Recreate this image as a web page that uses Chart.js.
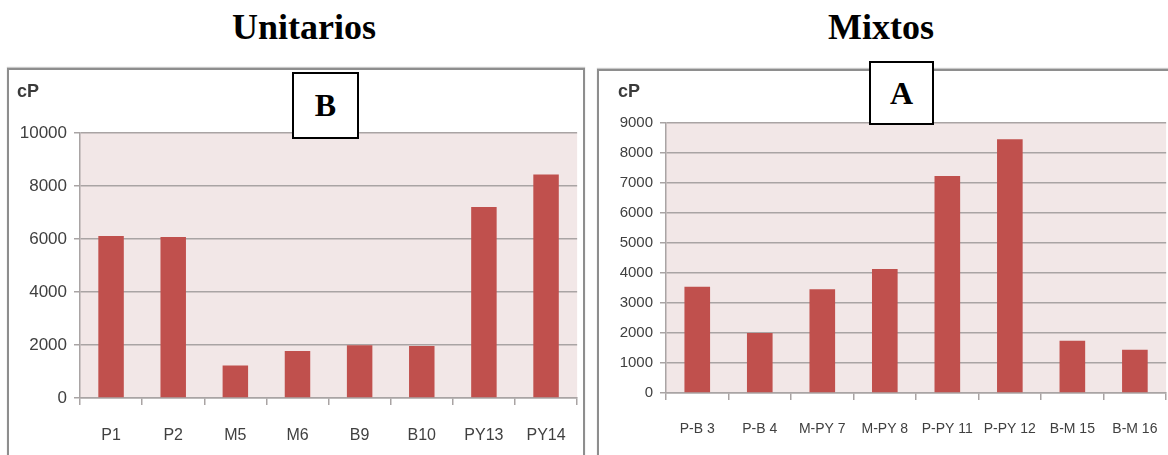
<!DOCTYPE html>
<html>
<head>
<meta charset="utf-8">
<script src="https://cdn.jsdelivr.net/npm/chart.js@4.4.1/dist/chart.umd.min.js"></script>
<style>
  html, body { margin: 0; padding: 0; }
  body { width: 1168px; height: 455px; overflow: hidden; background: #fff; position: relative; }
  .title { position: absolute; top: 6px; transform: translateX(-50%); font: bold 36px "Liberation Serif", "Times New Roman", serif; color: #000; white-space: nowrap; }
  .frame { position: absolute; border: 2px solid #8e8e8e; box-shadow: 0 -1px 1px #c8c8c8; background: #fff; }
  .cv { position: absolute; }
  .unit { position: absolute; font: bold 18px "Liberation Sans", Arial, sans-serif; color: #3a3a3a; }
  .tag { position: absolute; box-sizing: border-box; border: 2px solid #000; background: #fff; display: flex; align-items: center; justify-content: center; font: bold 32px "Liberation Serif", "Times New Roman", serif; color: #000; }
</style>
</head>
<body>
  <div class="title" style="left:304px">Unitarios</div>
  <div class="title" style="left:881px">Mixtos</div>

  <div class="frame" style="left:7px;top:68px;width:574px;height:400px"></div>
  <div class="frame" style="left:597px;top:69px;width:600px;height:400px"></div>

  <div class="cv" style="left:9px;top:70px;width:578px;height:382px"><canvas id="unitarios"></canvas></div>
  <div class="cv" style="left:599px;top:71px;width:580px;height:384px"><canvas id="mixtos"></canvas></div>

  <div class="unit" style="left:17px;top:81px">cP</div>
  <div class="unit" style="left:618px;top:81px">cP</div>

  <div class="tag" style="left:292px;top:72px;width:67px;height:67px">B</div>
  <div class="tag" style="left:869px;top:61px;width:65px;height:64px">A</div>

<script>
// Viscosity (cP) of single-material samples
const unitLabels = ["P1", "P2", "M5", "M6", "B9", "B10", "PY13", "PY14"];
const unitValues = [6110, 6080, 1230, 1770, 1990, 1960, 7210, 8430];
const unitTicks = [0, 2000, 4000, 6000, 8000, 10000];

// Viscosity (cP) of mixed samples
const mixLabels = ["P-B 3", "P-B 4", "M-PY 7", "M-PY 8", "P-PY 11", "P-PY 12", "B-M 15", "B-M 16"];
const mixValues = [3540, 2000, 3460, 4130, 7230, 8460, 1740, 1440];
const mixTicks = [0, 1000, 2000, 3000, 4000, 5000, 6000, 7000, 8000, 9000];

const BAR = "#c0504d";
const PLOT_BG = "#f2e7e7";
const GRID = "#a9a4a4";
const TEXT = "#404040";
const FONT = '"Liberation Sans", Arial, sans-serif';

const plotBackground = {
  id: "plotBackground",
  beforeDraw(chart) {
    const { ctx, chartArea: a } = chart;
    ctx.save();
    ctx.fillStyle = PLOT_BG;
    ctx.fillRect(a.left, a.top, a.right - a.left, a.bottom - a.top);
    ctx.restore();
  }
};

function makeChart(id, labels, values, ticks, geo) {
  return new Chart(document.getElementById(id), {
    type: "bar",
    data: {
      labels: labels,
      datasets: [{
        data: values,
        backgroundColor: BAR,
        borderWidth: 0,
        barPercentage: 0.41,
        categoryPercentage: 1.0
      }]
    },
    plugins: [plotBackground],
    options: {
      responsive: true,
      maintainAspectRatio: false,
      animation: false,
      events: [],
      layout: { padding: { top: geo.top, right: geo.right, left: 0, bottom: 0 } },
      plugins: { legend: { display: false }, tooltip: { enabled: false }, title: { display: false } },
      scales: {
        x: {
          grid: { offset: true, drawOnChartArea: false, drawTicks: true, tickLength: 7, color: GRID, lineWidth: 1.5 },
          border: { display: true, color: GRID, width: 1.5 },
          ticks: { color: TEXT, padding: geo.xPad, maxRotation: 0, autoSkip: false, font: { family: FONT, size: geo.xFont } },
          afterFit(s) { s.height = geo.xHeight; }
        },
        y: {
          min: 0,
          max: ticks[ticks.length - 1],
          afterBuildTicks(s) { s.ticks = ticks.map(v => ({ value: v })); },
          grid: { drawTicks: true, tickLength: 6, color: GRID, lineWidth: 1.5 },
          border: { display: true, color: GRID, width: 1.5 },
          ticks: { color: TEXT, padding: 7, callback: v => String(v), font: { family: FONT, size: geo.yFont } },
          afterFit(s) { s.width = geo.yWidth; }
        }
      }
    }
  });
}

makeChart("unitarios", unitLabels, unitValues, unitTicks,
  { top: 63, right: 6, yWidth: 71, xHeight: 54, xPad: 21, xFont: 16, yFont: 17 });
makeChart("mixtos", mixLabels, mixValues, mixTicks,
  { top: 52, right: 9, yWidth: 67, xHeight: 62, xPad: 21, xFont: 14, yFont: 15 });
</script>
</body>
</html>
